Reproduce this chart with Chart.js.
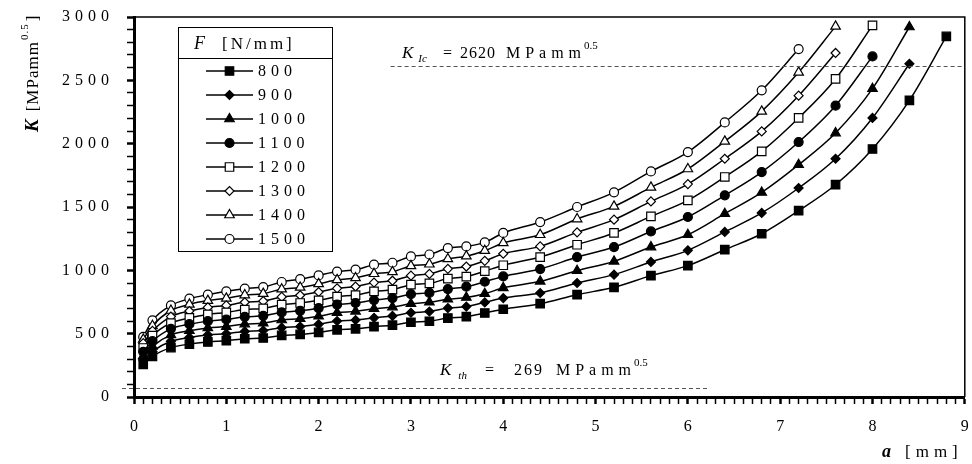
<!DOCTYPE html>
<html>
<head>
<meta charset="utf-8">
<script src="https://cdn.jsdelivr.net/npm/chart.js@4.4.1/dist/chart.umd.min.js"></script>
<style>
  html, body { margin:0; padding:0; background:#fff; }
  #wrap { width:972px; height:464px; }
</style>
</head>
<body>
<div id="wrap"><canvas id="kChart" width="972" height="464"></canvas></div>
<script>
// ── DATA ──────────────────────────────────────────────────
const crackLength = [0.1, 0.2, 0.4, 0.6, 0.8, 1.0, 1.2, 1.4, 1.6, 1.8, 2.0, 2.2, 2.4, 2.6, 2.8, 3.0,
  3.2, 3.4, 3.6, 3.8, 4.0, 4.4, 4.8, 5.2, 5.6, 6.0, 6.4, 6.8, 7.2, 7.6, 8.0, 8.4, 8.8];

const forces = [800, 900, 1000, 1100, 1200, 1300, 1400, 1500];

const k800  = [258, 321, 390, 418, 435, 445, 460, 466, 486, 494, 510, 530, 538, 555, 567, 590, 598, 623, 634, 663, 693,
  737, 808, 866, 958, 1037, 1163, 1289, 1471, 1676, 1958, 2342, 2847];
const k900  = [292, 360, 440, 470, 490, 500, 518, 525, 547, 556, 574, 600, 607, 625, 640, 665, 675, 702, 714, 747, 781,
  821, 900, 966, 1066, 1158, 1303, 1453, 1650, 1881, 2203, 2631];
const k1000 = [325, 400, 490, 523, 545, 556, 576, 583, 608, 618, 638, 665, 676, 697, 710, 736, 748, 772, 786, 815, 862,
  913, 997, 1071, 1184, 1281, 1447, 1615, 1834, 2084, 2434, 2921];
const k1100 = [357, 441, 538, 575, 599, 612, 633, 641, 668, 680, 701, 730, 742, 765, 781, 812, 822, 852, 871, 910, 952,
  1010, 1105, 1184, 1307, 1421, 1592, 1776, 2013, 2300, 2689];
const k1200 = [387, 484, 584, 624, 652, 668, 690, 699, 729, 742, 763, 792, 805, 834, 847, 887, 897, 935, 950, 994, 1040,
  1105, 1202, 1295, 1426, 1552, 1737, 1939, 2203, 2511, 2934];
const k1300 = [425, 522, 635, 679, 707, 723, 748, 757, 790, 803, 829, 858, 872, 903, 918, 958, 972, 1012, 1030, 1075, 1131,
  1189, 1300, 1400, 1544, 1681, 1881, 2097, 2379, 2716];
const k1400 = [455, 562, 683, 731, 761, 779, 805, 816, 851, 865, 893, 925, 940, 973, 988, 1035, 1048, 1090, 1112, 1155, 1216,
  1281, 1405, 1505, 1655, 1800, 2018, 2255, 2563, 2926];
const k1500 = [474, 605, 723, 776, 808, 834, 855, 868, 908, 930, 960, 990, 1005, 1045, 1060, 1110, 1125, 1176, 1189, 1221, 1295,
  1381, 1500, 1616, 1781, 1934, 2168, 2421, 2747];

const kSeries = [k800, k900, k1000, k1100, k1200, k1300, k1400, k1500];

// threshold lines: label value + where the dashed line sits + its a-range
const kIcLabel = 2620, kIcLine = 2610, kIcFrom = 2.78, kIcTo = 9;
const kThLabel = 269,  kThLine = 72,   kThFrom = -0.13, kThTo = 6.22;

// ── STYLE ─────────────────────────────────────────────────
const SERIF = '"Liberation Serif", "Times New Roman", serif';
const markers = [
  { style:'rect',     r:6,   filled:true  },
  { style:'rectRot',  r:4.5, filled:true  },
  { style:'triangle', r:5.5, filled:true  },
  { style:'circle',   r:4.5, filled:true  },
  { style:'rect',     r:6,   filled:false },
  { style:'rectRot',  r:4.5, filled:false },
  { style:'triangle', r:5.5, filled:false },
  { style:'circle',   r:4.5, filled:false },
];
const isWhole = v => Math.abs(v - Math.round(v)) < 1e-6;

const datasets = forces.map((f, i) => ({
  label: String(f),
  data: kSeries[i].map((k, j) => ({ x: crackLength[j], y: k })),
  borderColor: '#000',
  borderWidth: 1.5,
  pointStyle: markers[i].style,
  pointRadius: markers[i].r,
  pointHoverRadius: markers[i].r,
  pointBackgroundColor: markers[i].filled ? '#000' : '#fff',
  pointBorderColor: '#000',
  pointBorderWidth: 1.2,
  cubicInterpolationMode: 'monotone',
  fill: false
}));

// ── helper: draw text in pieces (italic, sub/superscript) ─
function drawParts(ctx, x, y, parts) {
  parts.forEach(p => {
    ctx.font = p.font;
    ctx.letterSpacing = (p.ls || 0) + 'px';
    x += p.dx || 0;
    ctx.fillText(p.text, x, y + (p.dy || 0));
    x += ctx.measureText(p.text).width;
  });
  ctx.letterSpacing = '0px';
}

// ── PLUGIN: frame, threshold lines, legend, axis titles ──
const decorations = {
  id: 'decorations',
  beforeDraw(chart) {
    chart.ctx.letterSpacing = '5px';
  },
  afterDraw(chart) {
    const ctx = chart.ctx;
    const { left, right, top, bottom } = chart.chartArea;
    const xs = chart.scales.x, ys = chart.scales.y;
    ctx.save();
    ctx.letterSpacing = '0px';

    // top + right frame
    ctx.strokeStyle = '#000';
    ctx.lineWidth = 1.5;
    ctx.beginPath();
    ctx.moveTo(left, top); ctx.lineTo(right, top); ctx.lineTo(right, bottom);
    ctx.stroke();

    // dashed threshold lines
    ctx.strokeStyle = '#555';
    ctx.lineWidth = 1;
    ctx.setLineDash([4, 3]);
    [[kIcLine, kIcFrom, kIcTo], [kThLine, kThFrom, kThTo]].forEach(([k, a0, a1]) => {
      const py = Math.round(ys.getPixelForValue(k)) + 0.5;
      ctx.beginPath();
      ctx.moveTo(xs.getPixelForValue(a0), py);
      ctx.lineTo(xs.getPixelForValue(a1), py);
      ctx.stroke();
    });
    ctx.setLineDash([]);

    ctx.fillStyle = '#000';
    ctx.textBaseline = 'alphabetic';
    ctx.textAlign = 'left';

    // threshold labels
    drawParts(ctx, 402, 58, [
      { text:'K', font:'italic 17px ' + SERIF },
      { text:'Ic', font:'italic 11px ' + SERIF, dx:5, dy:4 },
      { text:'=', font:'16px ' + SERIF, dx:16 },
      { text:String(kIcLabel), font:'16px ' + SERIF, dx:8, ls:1 },
      { text:'MPamm', font:'16px ' + SERIF, dx:10, ls:5 },
      { text:'0.5', font:'11px ' + SERIF, dx:-2, dy:-9 },
    ]);
    drawParts(ctx, 440, 375, [
      { text:'K', font:'italic 17px ' + SERIF },
      { text:'th', font:'italic 11px ' + SERIF, dx:7, dy:4 },
      { text:'=', font:'16px ' + SERIF, dx:18 },
      { text:String(kThLabel), font:'16px ' + SERIF, dx:20, ls:2 },
      { text:'MPamm', font:'16px ' + SERIF, dx:12, ls:5 },
      { text:'0.5', font:'11px ' + SERIF, dx:-2, dy:-9 },
    ]);

    // legend box
    const lg = { l:178.5, t:27.5, r:332.5, b:251.5, sep:58.5 };
    ctx.fillStyle = '#fff';
    ctx.fillRect(lg.l, lg.t, lg.r - lg.l, lg.b - lg.t);
    ctx.strokeStyle = '#000';
    ctx.lineWidth = 1;
    ctx.strokeRect(lg.l, lg.t, lg.r - lg.l, lg.b - lg.t);
    ctx.beginPath(); ctx.moveTo(lg.l, lg.sep); ctx.lineTo(lg.r, lg.sep); ctx.stroke();

    ctx.fillStyle = '#000';
    drawParts(ctx, 194, 49, [
      { text:'F', font:'italic 18px ' + SERIF },
      { text:'[N/mm]', font:'17px ' + SERIF, dx:17, ls:3 },
    ]);

    chart.data.datasets.forEach((ds, i) => {
      const y = 71 + i * 24;
      ctx.strokeStyle = '#000';
      ctx.lineWidth = 1.5;
      ctx.beginPath(); ctx.moveTo(206, y); ctx.lineTo(253, y); ctx.stroke();
      ctx.fillStyle = ds.pointBackgroundColor;
      ctx.lineWidth = 1.2;
      Chart.helpers.drawPoint(ctx, { pointStyle: ds.pointStyle, radius: ds.pointRadius, rotation: 0, borderWidth: 1.2 }, 229.5, y);
      ctx.fillStyle = '#000';
      ctx.textBaseline = 'middle';
      drawParts(ctx, 258, y + 1, [{ text: ds.label, font:'16px ' + SERIF, ls:5 }]);
      ctx.textBaseline = 'alphabetic';
    });

    // y axis title (rotated)
    ctx.save();
    ctx.translate(38, 132);
    ctx.rotate(-Math.PI / 2);
    drawParts(ctx, 0, 0, [
      { text:'K', font:'bold italic 19px ' + SERIF, ls:4 },
      { text:'[MPamm', font:'17px ' + SERIF, dx:4, ls:1 },
      { text:'0.5', font:'11px ' + SERIF, dx:1, dy:-10, ls:1 },
      { text:']', font:'17px ' + SERIF, dx:2 },
    ]);
    ctx.restore();

    // x axis title
    drawParts(ctx, 882, 457, [
      { text:'a', font:'bold italic 18px ' + SERIF },
      { text:'[mm]', font:'17px ' + SERIF, dx:14, ls:5 },
    ]);

    ctx.restore();
  }
};

// ── CHART ─────────────────────────────────────────────────
new Chart(document.getElementById('kChart'), {
  type: 'line',
  data: { datasets },
  options: {
    responsive: false,
    animation: false,
    events: [],
    layout: { padding: { top: 17, right: 2, left: 0, bottom: 0 } },
    plugins: { legend: { display: false }, tooltip: { enabled: false } },
    scales: {
      x: {
        type: 'linear',
        min: 0, max: 9,
        ticks: {
          stepSize: 0.1,
          autoSkip: false,
          maxRotation: 0,
          callback: v => isWhole(v) ? String(Math.round(v)) : '',
          font: { family: SERIF, size: 16 },
          color: '#000',
          padding: 13,
          labelOffset: 2.5
        },
        grid: {
          drawOnChartArea: false,
          tickLength: 7,
          tickColor: '#000',
          tickWidth: c => isWhole(c.tick.value) ? 2.5 : 1.5
        },
        border: { color: '#000', width: 3 },
        afterFit: s => { s.height = 67; s.paddingLeft = 0; s.paddingRight = 0; }
      },
      y: {
        min: 0, max: 3000,
        ticks: {
          stepSize: 100,
          autoSkip: false,
          callback: v => v % 500 === 0 ? String(v) : '',
          font: { family: SERIF, size: 16 },
          color: '#000',
          padding: 13
        },
        grid: {
          drawOnChartArea: false,
          tickLength: 7,
          tickColor: '#000',
          tickWidth: c => c.tick.value % 500 === 0 ? 2.5 : 1.5
        },
        border: { color: '#000', width: 3 },
        afterFit: s => { s.width = 134; s.paddingTop = 0; s.paddingBottom = 0; }
      }
    }
  },
  plugins: [decorations]
});
</script>
</body>
</html>
